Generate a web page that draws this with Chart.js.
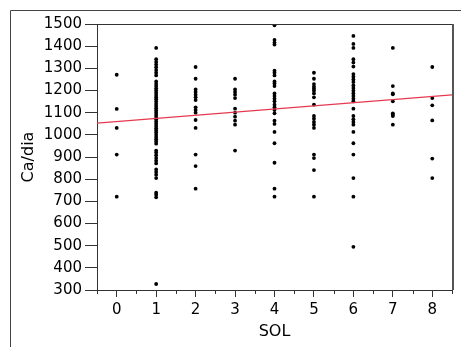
<!DOCTYPE html>
<html>
<head>
<meta charset="utf-8">
<script src="https://cdn.jsdelivr.net/npm/chart.js@4/dist/chart.umd.min.js"></script>
<style>
  body { margin: 0; background: #fff; }
</style>
</head>
<body>
<canvas id="myChart" width="461" height="347"></canvas>
<script>
const solLevels = [0, 1, 2, 3, 4, 5, 6, 7, 8];

// Ca/dia readings per SOL level
const ca0 = [1271, 1117, 1031, 911, 721];
const ca1 = [1392, 1341, 1329, 1317, 1305, 1292, 1280, 1268,
  1241, 1230, 1220, 1210, 1200, 1190, 1180, 1170, 1160, 1150, 1140, 1130,
  1120, 1110, 1100, 1090, 1080, 1070, 1060, 1050, 1040, 1030, 1020, 1010,
  1000, 990, 980, 970, 960,
  929, 920, 908, 895, 883, 871, 844, 832, 820, 805, 739, 730, 718, 327];
const ca2 = [1306, 1253, 1205, 1193, 1181, 1169, 1157, 1124, 1112, 1100, 1067, 1031, 911, 859, 757];
const ca3 = [1253, 1205, 1193, 1181, 1166, 1118, 1100, 1082, 1064, 1046, 929];
const ca4 = [1494, 1428, 1416, 1407, 1289, 1280, 1268, 1241, 1232, 1220, 1187, 1175, 1163,
  1151, 1136, 1124, 1112, 1097, 1064, 1049, 1013, 962, 874, 757, 721];
const ca5 = [1280, 1253, 1229, 1217, 1208, 1199, 1187, 1169, 1136, 1085, 1073, 1058, 1046,
  1031, 911, 895, 841, 721];
const ca6 = [1446, 1410, 1392, 1341, 1326, 1308, 1274, 1262, 1250, 1238, 1223, 1211, 1199,
  1187, 1175, 1163, 1151, 1118, 1085, 1070, 1058, 1046, 1013, 962, 911, 805, 721, 495];
const ca7 = [1392, 1220, 1187, 1183, 1151, 1097, 1091, 1085, 1046];
const ca8 = [1306, 1166, 1133, 1065, 893, 805];
const caBySol = [ca0, ca1, ca2, ca3, ca4, ca5, ca6, ca7, ca8];

// fitted line
const fitIntercept = 1060;
const fitSlope = 14.1;

const xMin = -0.5, xMax = 8.5;
const yMin = 300, yMax = 1500;

const points = [];
caBySol.forEach((vals, i) => {
  for (const v of vals) points.push({ x: solLevels[i], y: v });
});

const fitLine = [
  { x: xMin, y: fitIntercept + fitSlope * xMin },
  { x: xMax, y: fitIntercept + fitSlope * xMax }
];

const axisColor = "#333";
const tickFont = { family: "DejaVu Sans", size: 15 };

const framePlugin = {
  id: "frame",
  beforeDraw(chart) {
    const c = chart.ctx;
    c.save();
    c.fillStyle = "#fff";
    c.fillRect(0, 0, chart.width, chart.height);
    c.strokeStyle = "#444";
    c.lineWidth = 1;
    c.beginPath();
    c.moveTo(10.5, chart.height);
    c.lineTo(10.5, 10.5);
    c.lineTo(chart.width, 10.5);
    c.stroke();
    c.restore();
  },
  afterDraw(chart) {
    const a = chart.chartArea;
    const c = chart.ctx;
    const xs = chart.scales.x;
    c.save();
    c.strokeStyle = axisColor;
    c.lineWidth = 1;
    c.beginPath();
    c.moveTo(a.left, a.top + 0.5);
    c.lineTo(a.right, a.top + 0.5);
    c.stroke();
    // minor ticks at the half steps
    c.beginPath();
    for (const t of xs.ticks) {
      if (Number.isInteger(t.value)) continue;
      const px = Math.round(xs.getPixelForValue(t.value)) + 0.5;
      c.moveTo(px, a.bottom);
      c.lineTo(px, a.bottom + 4);
    }
    c.stroke();
    c.strokeStyle = "#555";
    c.lineWidth = 2;
    c.beginPath();
    c.moveTo(a.right + 1, a.top);
    c.lineTo(a.right + 1, a.bottom);
    c.stroke();
    c.restore();
  }
};

const ctx = document.getElementById("myChart").getContext("2d");
const chart = new Chart(ctx, {
  type: "scatter",
  data: {
    datasets: [
      {
        type: "line",
        data: fitLine,
        borderColor: "#e63950",
        borderWidth: 1.3,
        pointRadius: 0,
        fill: false
      },
      {
        data: points,
        backgroundColor: "#000",
        borderWidth: 0,
        pointRadius: 1.9
      }
    ]
  },
  options: {
    responsive: false,
    animation: false,
    layout: { padding: { left: 0, top: 24, right: 9, bottom: 0 } },
    plugins: { legend: { display: false }, tooltip: { enabled: false } },
    scales: {
      x: {
        type: "linear",
        min: xMin,
        max: xMax,
        afterFit(scale) {
          scale.height = 57;
          scale.paddingLeft = 0;
          scale.paddingRight = 0;
        },
        ticks: {
          stepSize: 0.5,
          autoSkip: false,
          maxRotation: 0,
          color: "#000",
          font: tickFont,
          padding: 4,
          callback: (v) => (Number.isInteger(v) ? String(v) : "")
        },
        grid: {
          drawOnChartArea: false,
          tickLength: 7,
          tickColor: (c) => (Number.isInteger(c.tick.value) ? axisColor : "rgba(0,0,0,0)")
        },
        border: { display: true, color: axisColor, width: 1 },
        title: {
          display: true,
          text: "SOL",
          color: "#000",
          font: { family: "DejaVu Sans", size: 16 },
          padding: { top: 0, bottom: 6 }
        }
      },
      y: {
        min: yMin,
        max: yMax,
        afterFit(scale) {
          scale.width = 97;
          scale.paddingTop = 0;
          scale.paddingBottom = 0;
        },
        ticks: {
          stepSize: 100,
          color: "#000",
          font: tickFont,
          padding: 3,
          callback: (v) => String(v)
        },
        grid: {
          drawOnChartArea: false,
          tickLength: 12,
          tickColor: axisColor
        },
        border: { display: true, color: axisColor, width: 1 },
        title: {
          display: true,
          text: "Ca/dia",
          color: "#000",
          font: { family: "DejaVu Sans", size: 16 },
          padding: { top: 19, bottom: 0 }
        }
      }
    }
  },
  plugins: [framePlugin]
});
</script>
</body>
</html>
